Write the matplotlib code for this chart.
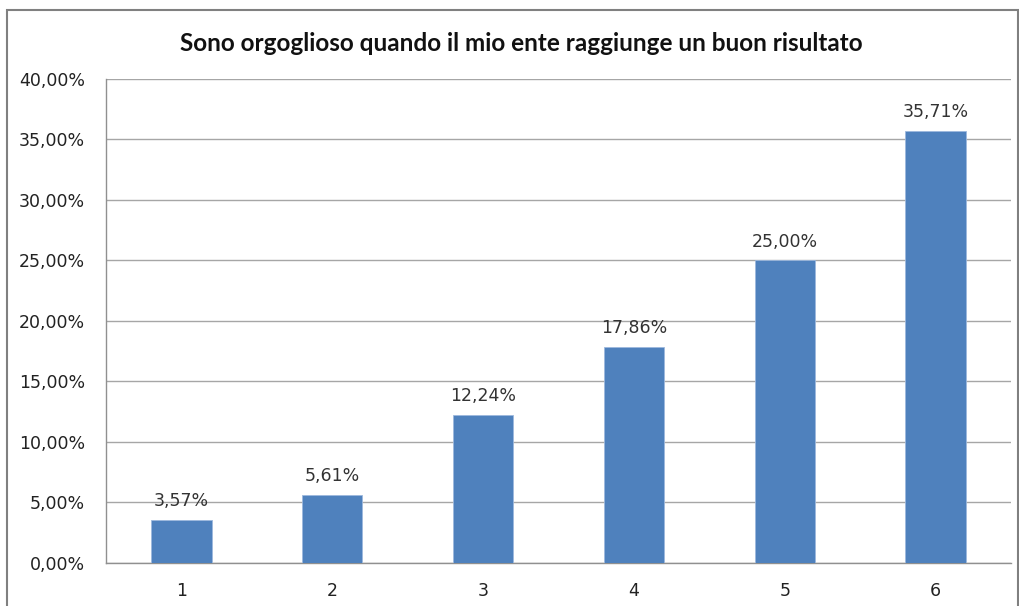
import matplotlib.pyplot as plt
from matplotlib.patches import Rectangle
from matplotlib.ticker import FuncFormatter

categories = ['1', '2', '3', '4', '5', '6']
values = [3.57, 5.61, 12.24, 17.86, 25.00, 35.71]
title = 'Sono orgoglioso quando il mio ente raggiunge un buon risultato'

plt.rcParams['font.family'] = ['DejaVu Sans']

fig = plt.figure(figsize=(10.2, 6.06), dpi=100)
ax = fig.add_axes([0.1039, 0.0710, 0.8873, 0.7987])

x = range(len(categories))
bars = ax.bar(x, values, width=0.4, color='#4F81BD', edgecolor='#9DB9DE', linewidth=0.6, zorder=3)

for b, v in zip(bars, values):
    ax.text(b.get_x() + b.get_width() / 2, v + 0.8, f"{v:.2f}%".replace('.', ','),
            ha='center', va='bottom', fontsize=12.5, color='#333333')

ax.set_xlim(-0.5, len(categories) - 0.5)
ax.set_ylim(0, 40)
ax.set_yticks(range(0, 41, 5))
ax.yaxis.set_major_formatter(FuncFormatter(lambda v, p: f"{v:.2f}%".replace('.', ',')))
ax.set_xticks(list(x))
ax.set_xticklabels(categories)
ax.tick_params(axis='both', length=0, labelsize=12.5, colors='#222222')
ax.tick_params(axis='x', pad=14)
ax.tick_params(axis='y', pad=15)
ax.grid(axis='y', color='#A6A6A6', linewidth=1, zorder=0)

for s in ['top', 'right']:
    ax.spines[s].set_visible(False)
for s in ['left', 'bottom']:
    ax.spines[s].set_color('#909090')
    ax.spines[s].set_linewidth(1)

fig.text(0.511, 0.928, title, ha='center', va='center', fontsize=17.5,
         fontweight='bold', color='#111111', family='Lato')

# chart border like the spreadsheet frame
fig.patches.append(Rectangle((7 / 1020, -0.05), 1011 / 1020, 1.05 - 10 / 606,
                             transform=fig.transFigure, fill=False,
                             edgecolor='#808080', linewidth=1.5))

fig.savefig('out.png', dpi=100)
